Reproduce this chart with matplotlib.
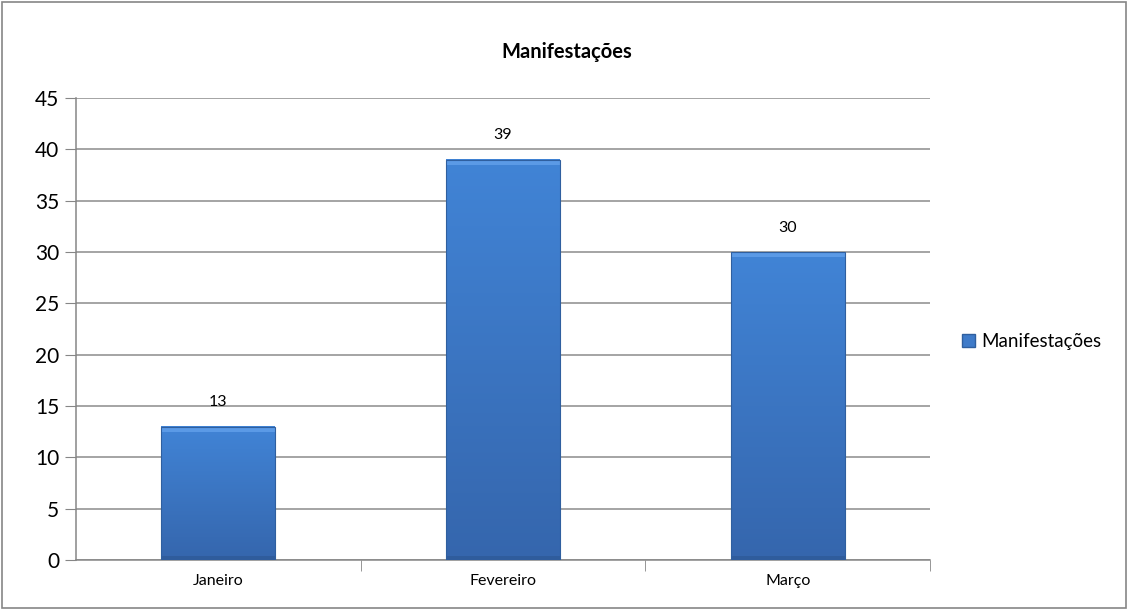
import numpy as np
import matplotlib
matplotlib.use("Agg")
import matplotlib.pyplot as plt
from matplotlib.colors import LinearSegmentedColormap
from matplotlib.patches import Rectangle, Patch

# data
meses = ["Janeiro", "Fevereiro", "Março"]
valores = [13, 39, 30]
serie = "Manifestações"

plt.rcParams['font.family'] = ['Lato', 'DejaVu Sans']

fig = plt.figure(figsize=(11.28, 6.10), dpi=100)
ax = fig.add_axes([0.0674, 0.082, 0.7571, 0.7573])

grad = LinearSegmentedColormap.from_list("barra", ["#3566ad", "#4184d6"])
x = np.arange(len(meses))
largura = 0.4

for xi, v in zip(x, valores):
    esq, dir_ = xi - largura / 2, xi + largura / 2
    g = np.linspace(0, 1, 256).reshape(-1, 1)
    ax.imshow(g, cmap=grad, aspect="auto", origin="lower",
              extent=(esq, dir_, 0, v), zorder=3, interpolation="bicubic")
    # bevel highlights
    ax.add_patch(Rectangle((esq, v - 0.5), largura, 0.5, color="#5b9ae6",
                           lw=0, zorder=4))
    ax.add_patch(Rectangle((esq, 0), largura, 0.4, color="#2f5c9c",
                           lw=0, zorder=4))
    ax.add_patch(Rectangle((esq, 0), largura, v, fill=False,
                           edgecolor="#2f5f9f", lw=0.8, zorder=5))
    ax.text(xi, v + 1.7, str(v), ha="center", va="bottom", fontsize=11.5,
            zorder=6)

ax.set_xlim(-0.5, len(meses) - 0.5)
ax.set_ylim(0, 45)
ax.set_yticks(range(0, 46, 5))
ax.set_xticks(x)
ax.set_xticklabels(meses, fontsize=11.5)
ax.tick_params(axis="y", labelsize=15, length=8, color="#868686", pad=4)
ax.tick_params(axis="x", length=0, pad=10)
ax.set_xticks(np.arange(0.5, len(meses), 1), minor=True)
ax.tick_params(axis="x", which="minor", length=8, color="#868686")
ax.grid(axis="y", color="#8c8c8c", lw=1.1, zorder=1)

for lado in ["top", "right"]:
    ax.spines[lado].set_visible(False)
for lado in ["left", "bottom"]:
    ax.spines[lado].set_color("#868686")
    ax.spines[lado].set_linewidth(1.1)

fig.text(0.5027, 0.915, serie, ha="center", va="center", fontsize=14.5,
         fontweight="bold")

fig.legend(handles=[Patch(facecolor="#3f7bc9", edgecolor="#2f5f9f")],
           labels=[serie], loc="center left", bbox_to_anchor=(0.853, 0.44),
           frameon=False, fontsize=13.5, handlelength=0.7, handleheight=0.7,
           handletextpad=0.3, borderpad=0, borderaxespad=0)

fig.add_artist(Rectangle((0.002, 0.003), 0.996, 0.994, transform=fig.transFigure,
                         fill=False, edgecolor="#868686", lw=1.2))

fig.savefig("out.png", dpi=100)
